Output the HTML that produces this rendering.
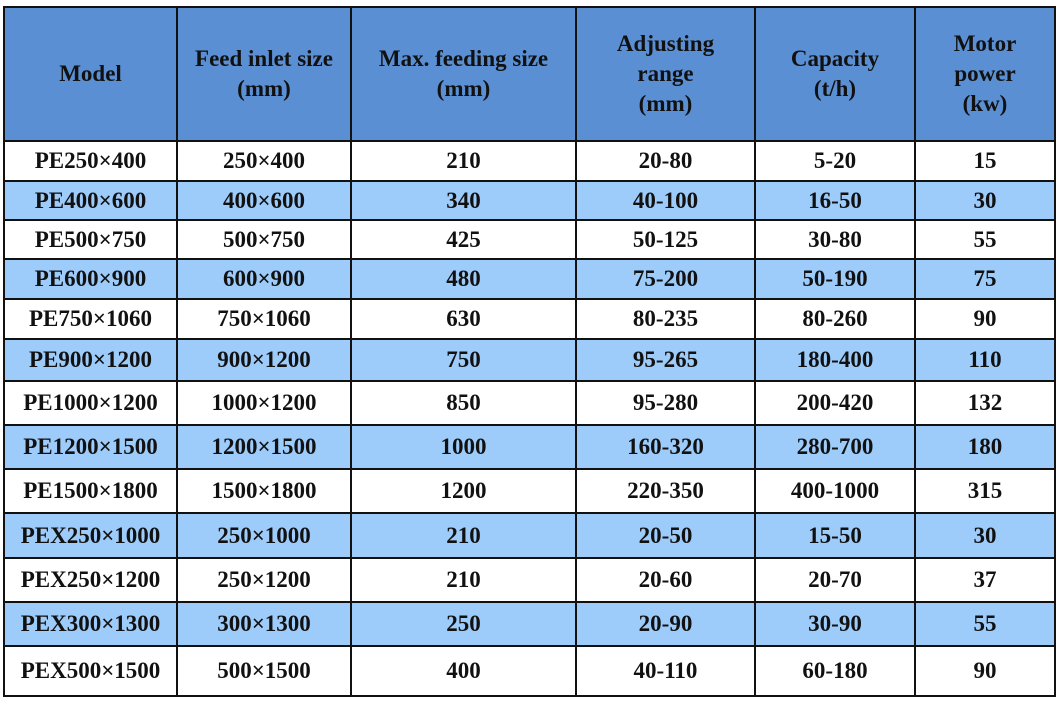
<!DOCTYPE html>
<html><head><meta charset="utf-8"><style>
body{margin:0;background:#fff;width:1059px;height:702px;overflow:hidden;}
table{position:absolute;left:3px;top:6px;border-collapse:collapse;table-layout:fixed;font-family:"Liberation Serif","Times New Roman",serif;font-weight:bold;font-size:23px;color:#111;}
td,th{border:2px solid #111;text-align:center;vertical-align:middle;padding:0;line-height:30px;white-space:nowrap;}
th{background:#5b8fd4;font-size:23px;}
tr.a td{background:#9dcbfa;}
</style></head><body>
<table>
<colgroup><col style="width:173px"><col style="width:174px"><col style="width:225px"><col style="width:179px"><col style="width:160px"><col style="width:140px"></colgroup>
<tr style="height:134px"><th>Model</th><th>Feed inlet size<br>(mm)</th><th>Max. feeding size<br>(mm)</th><th>Adjusting<br>range<br>(mm)</th><th>Capacity<br>(t/h)</th><th>Motor<br>power<br>(kw)</th></tr>
<tr style="height:40px"><td>PE250×400</td><td>250×400</td><td>210</td><td>20-80</td><td>5-20</td><td>15</td></tr>
<tr class="a" style="height:39px"><td>PE400×600</td><td>400×600</td><td>340</td><td>40-100</td><td>16-50</td><td>30</td></tr>
<tr style="height:39px"><td>PE500×750</td><td>500×750</td><td>425</td><td>50-125</td><td>30-80</td><td>55</td></tr>
<tr class="a" style="height:40px"><td>PE600×900</td><td>600×900</td><td>480</td><td>75-200</td><td>50-190</td><td>75</td></tr>
<tr style="height:40px"><td>PE750×1060</td><td>750×1060</td><td>630</td><td>80-235</td><td>80-260</td><td>90</td></tr>
<tr class="a" style="height:42px"><td>PE900×1200</td><td>900×1200</td><td>750</td><td>95-265</td><td>180-400</td><td>110</td></tr>
<tr style="height:44px"><td>PE1000×1200</td><td>1000×1200</td><td>850</td><td>95-280</td><td>200-420</td><td>132</td></tr>
<tr class="a" style="height:44px"><td>PE1200×1500</td><td>1200×1500</td><td>1000</td><td>160-320</td><td>280-700</td><td>180</td></tr>
<tr style="height:44px"><td>PE1500×1800</td><td>1500×1800</td><td>1200</td><td>220-350</td><td>400-1000</td><td>315</td></tr>
<tr class="a" style="height:45px"><td>PEX250×1000</td><td>250×1000</td><td>210</td><td>20-50</td><td>15-50</td><td>30</td></tr>
<tr style="height:44px"><td>PEX250×1200</td><td>250×1200</td><td>210</td><td>20-60</td><td>20-70</td><td>37</td></tr>
<tr class="a" style="height:44px"><td>PEX300×1300</td><td>300×1300</td><td>250</td><td>20-90</td><td>30-90</td><td>55</td></tr>
<tr style="height:50px"><td>PEX500×1500</td><td>500×1500</td><td>400</td><td>40-110</td><td>60-180</td><td>90</td></tr>
</table>
</body></html>
